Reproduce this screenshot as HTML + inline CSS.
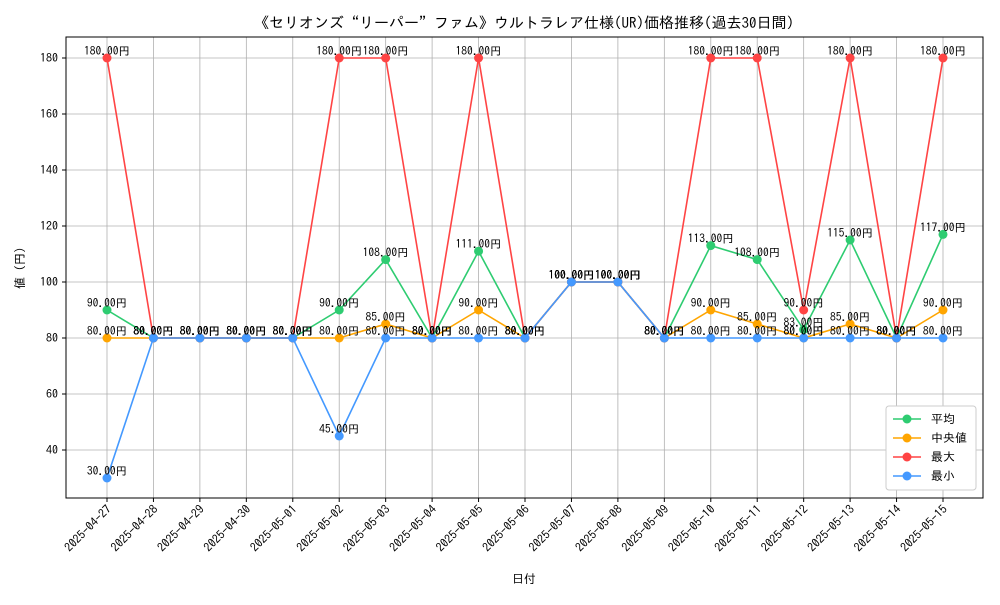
<!DOCTYPE html>
<html><head><meta charset="utf-8"><style>
body{margin:0;background:#fff}
svg text{font-family:"IPAGothic","Liberation Sans","Noto Sans CJK JP",sans-serif}
</style></head><body>
<svg id="chart" width="1000" height="600" xmlns="http://www.w3.org/2000/svg">
<rect width="1000" height="600" fill="#fff"/>
<text x="524" y="28" font-size="15" text-anchor="middle">《セリオンズ“リーパー”ファム》ウルトラレア仕様(UR)価格推移(過去30日間)</text>
<g id="grid"></g><g id="axes"></g><g id="series"></g><g id="labels"></g>
<text x="524" y="583" font-size="12" text-anchor="middle">日付</text>
<text x="0" y="0" font-size="12" text-anchor="middle" transform="translate(24,268) rotate(-90)">値 (円)</text>
</svg>
<script>
const dates=["2025-04-27","2025-04-28","2025-04-29","2025-04-30","2025-05-01","2025-05-02","2025-05-03","2025-05-04","2025-05-05","2025-05-06","2025-05-07","2025-05-08","2025-05-09","2025-05-10","2025-05-11","2025-05-12","2025-05-13","2025-05-14","2025-05-15"];
const avgVals=[90,80,80,80,80,90,108,80,111,80,100,100,80,113,108,83,115,80,117];
const medVals=[80,80,80,80,80,80,85,80,90,80,100,100,80,90,85,80,85,80,90];
const maxVals=[180,80,80,80,80,180,180,80,180,80,100,100,80,180,180,90,180,80,180];
const minVals=[30,80,80,80,80,45,80,80,80,80,100,100,80,80,80,80,80,80,80];
const yTicks=[40,60,80,100,120,140,160,180];
const seriesNames=["平均","中央値","最大","最小"];
const NS="http://www.w3.org/2000/svg";
const L=66,R=983,T=37,B=498;
const xS=i=>107+i*(943-107)/(dates.length-1);
const yS=v=>338-(v-80)*2.8;
function mk(tag,attrs,parent){const e=document.createElementNS(NS,tag);for(const k in attrs)e.setAttribute(k,attrs[k]);document.getElementById(parent).appendChild(e);return e;}
yTicks.forEach(t=>{
 const g=mk("line",{x1:L,x2:R,y1:yS(t),y2:yS(t),stroke:"#b0b0b0","stroke-width":0.8},"grid");
 
 
 const tx=mk("text",{x:L-8,y:yS(t)+4,"font-size":12,"text-anchor":"end"},"axes");tx.textContent=t;
 
 
 mk("line",{x1:L-4,x2:L,y1:yS(t),y2:yS(t),stroke:"#000"},"axes");
});
dates.forEach((d,i)=>{
 const g=mk("line",{x1:xS(i),x2:xS(i),y1:T,y2:B,stroke:"#b0b0b0","stroke-width":0.8},"grid");
 
 
 mk("line",{x1:xS(i),x2:xS(i),y1:B,y2:B+4,stroke:"#000"},"axes");
 const tx=mk("text",{x:0,y:0,"font-size":12,"text-anchor":"end",transform:`translate(${xS(i)+5},${B+12}) rotate(-45)`},"axes");tx.textContent=d;
 
 
});
const fr=mk("rect",{x:L,y:T,width:R-L,height:B-T,fill:"none",stroke:"#000","stroke-width":1},"axes");


const series=[[avgVals,"#2ecc71","avg"],[medVals,"#ffa500","median"],[maxVals,"#ff4444","max"],[minVals,"#4499ff","min"]];
series.forEach(([vals,c,n])=>{
 const p=mk("polyline",{points:vals.map((v,i)=>xS(i)+","+yS(v)).join(" "),fill:"none",stroke:c,"stroke-width":1.6},"series");
 
 
 vals.forEach((v,i)=>{
  const ci=mk("circle",{cx:xS(i),cy:yS(v),r:4.5,fill:c},"series");
  
  
  const t=mk("text",{x:xS(i),y:yS(v)-3,"font-size":11.5,"text-anchor":"middle"},"labels");t.textContent=v.toFixed(2)+"円";
  
  
 });
});
const lg=mk("g",{},"labels");


mk("rect",{x:886,y:406,width:90,height:84,fill:"#fff",stroke:"#ccc",rx:3},"labels");
series.forEach(([v,c,n],k)=>{
 const y=419+k*19;
 mk("line",{x1:893,x2:921,y1:y,y2:y,stroke:c,"stroke-width":1.6},"labels");
 mk("circle",{cx:907,cy:y,r:4.5,fill:c},"labels");
 const t=mk("text",{x:931,y:y+4,"font-size":12},"labels");t.textContent=seriesNames[k];
 
 
});
</script>
</body></html>
